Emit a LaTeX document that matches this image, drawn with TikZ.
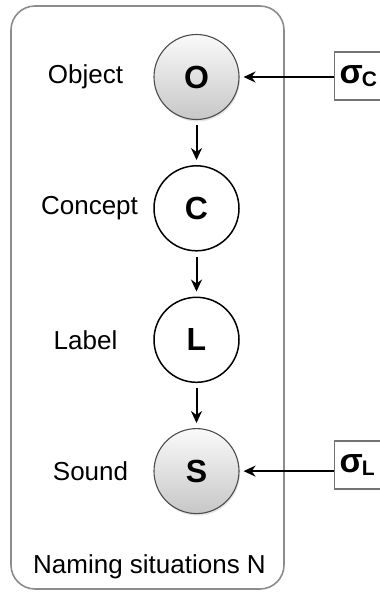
\documentclass[tikz,border=0pt]{standalone}
\usepackage{fontspec}
\setmainfont{Liberation Sans}
\usetikzlibrary{arrows.meta, positioning, shadows}

\begin{document}
\begin{tikzpicture}[
    x=1pt, y=-1pt,
    font=\fontsize{26}{30}\selectfont,
    node distance = 45pt,
    plate/.style = {
        rectangle, draw=black!45, rounded corners=24pt,
        minimum width=273pt, minimum height=583pt, line width=1.6pt
    },
    latent/.style = {
        circle, draw=black, fill=white, minimum size=85pt,
        inner sep=0pt, line width=1.5pt,
        font=\fontsize{32}{34}\selectfont\bfseries
    },
    observed/.style = {
        latent, draw=black!70, line width=1.1pt,
        top color=black!2, bottom color=black!22,
        drop shadow={opacity=0.2, shadow xshift=1pt, shadow yshift=-2pt}
    },
    param/.style = {
        rectangle, draw=black!55, fill=white, line width=1.1pt,
        minimum height=48pt, inner sep=5pt, anchor=west
    },
    lbl/.style = {font=\fontsize{26}{30}\selectfont},
    arr/.style = {-{Stealth[length=12pt, width=11pt]}, line width=2pt,
        shorten >=5pt, shorten <=5pt},
]

\useasboundingbox (0,0) rectangle (380,592);

% plate
\node[plate] (plate) at (147.5,297.5) {};
\node[anchor=base] (plname) at ([xshift=2pt, yshift=16pt]plate.south) {Naming situations N};

% variables
\node[observed] (O) at (196.5,77) {O};
\node[latent, below=of O] (C) {C};
\node[latent, below=of C] (L) {L};
\node[observed, below=of L] (S) {S};

\node[lbl] (tO) at ([xshift=-111pt]O) {Object};
\node[lbl] (tC) at ([xshift=-107pt]C) {Concept};
\node[lbl] (tL) at ([xshift=-111pt]L) {Label};
\node[lbl] (tS) at ([xshift=-106pt]S) {Sound};

% priors
\node[param] (sC) at (334,76) {\fontsize{34}{34}\selectfont\bfseries σ\kern-1pt\raisebox{-3pt}{\fontsize{21}{21}\selectfont C}\kern25pt};
\node[param] (sL) at (334,465) {\fontsize{34}{34}\selectfont\bfseries σ\kern-1pt\raisebox{-3pt}{\fontsize{21}{21}\selectfont L}\kern25pt};

\draw[arr] (O) -- (C);
\draw[arr] (C) -- (L);
\draw[arr] (L) -- (S);
\draw[arr, shorten <=0pt, shorten >=4pt] (sC.west |- O) -- (O);
\draw[arr, shorten <=0pt, shorten >=4pt] (sL.west |- S) -- (S);

\end{tikzpicture}
\end{document}
